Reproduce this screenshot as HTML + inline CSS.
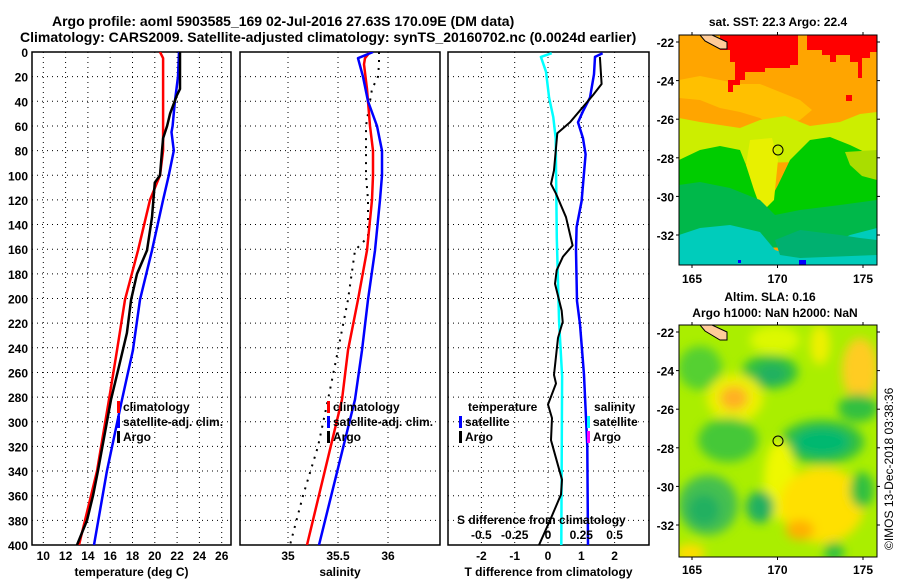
<!DOCTYPE html>
<html><head><meta charset="utf-8">
<style>
body{margin:0;background:#fff;}
svg{display:block;font-family:"Liberation Sans",sans-serif;font-weight:bold;}
</style></head>
<body>
<svg id="chart" width="900" height="580" viewBox="0 0 900 580" xmlns="http://www.w3.org/2000/svg">
<defs>
<clipPath id="cp1"><rect x="32" y="52" width="199" height="493"/></clipPath>
<clipPath id="cp2"><rect x="240" y="52" width="200" height="493"/></clipPath>
<clipPath id="cp3"><rect x="448" y="52" width="201" height="493"/></clipPath>
<clipPath id="cm1"><rect x="679" y="35" width="198" height="230"/></clipPath>
<clipPath id="cm2"><rect x="679" y="325" width="198" height="232"/></clipPath>
<filter id="blur" x="-20%" y="-20%" width="140%" height="140%"><feGaussianBlur stdDeviation="5"/></filter>
</defs>
<text x="52" y="26" font-size="14">Argo profile: aoml 5903585_169 02-Jul-2016 27.63S 170.09E (DM data)</text>
<text x="20" y="42" font-size="14">Climatology: CARS2009. Satellite-adjusted climatology: synTS_20160702.nc (0.0024d earlier)</text>
<g id="g1"></g>
<g id="g2"></g>
<g id="g3"></g>

<!-- SST map -->
<g>
<text x="778" y="26" font-size="12" text-anchor="middle">sat. SST: 22.3 Argo: 22.4</text>
<g clip-path="url(#cm1)">
<rect x="679" y="35" width="198" height="230" fill="#ffa500"/>
<polygon fill="#ffc000" points="679,80 700,76 720,80 740,84 760,84 780,92 800,100 812,110 800,120 785,125 770,125 760,118 740,112 720,108 700,100 679,98"/>
<polygon fill="#ff0000" points="720,35 798,35 798,65 790,65 790,68 765,68 765,72 745,72 745,80 740,80 740,85 733,85 733,92 728,92 728,80 735,80 735,62 730,62 730,50 720,50"/>
<polygon fill="#ff0000" points="807,35 877,35 877,52 870,52 870,58 862,58 862,78 858,78 858,62 850,62 850,55 836,55 836,62 830,62 830,55 822,55 822,50 807,50"/>
<polygon fill="#ff0000" points="725,141 732,141 732,146 725,146"/>
<polygon fill="#ff0000" points="846,95 852,95 852,101 846,101"/>
<polygon fill="#ccee00" points="679,118 700,122 720,125 740,128 760,120 785,116 810,126 840,122 860,114 877,112 877,160 679,165"/>
<polygon fill="#00cc00" points="679,160 700,150 720,146 740,150 750,175 760,190 770,200 778,185 790,160 810,140 830,137 850,145 877,158 877,215 679,215"/>
<polygon fill="#aadd00" points="845,152 877,150 877,180 862,176 850,165"/>
<polygon fill="#e8f000" points="750,140 772,138 778,160 774,200 762,212 754,190 746,165"/>
<polygon fill="#00b84a" points="679,185 700,182 730,188 760,200 775,215 800,210 840,205 877,200 877,245 679,250"/>
<polygon fill="#00ccbb" points="679,235 700,228 730,225 760,232 775,250 790,255 820,250 850,235 877,228 877,265 679,265"/>
<polygon fill="#00b070" points="775,240 800,230 840,235 860,238 877,240 877,255 800,258 780,255"/>
<rect x="799" y="260" width="7" height="5" fill="#0000ff"/>
<rect x="738" y="260" width="3" height="3" fill="#0000ff"/>
<polygon fill="#ffcc99" stroke="#000" stroke-width="1" points="700,35 712,35 727,42 727,49 720,49 705,41"/>
</g>
<circle cx="778" cy="150" r="5" fill="none" stroke="#000" stroke-width="1"/>
<rect x="679" y="35" width="198" height="230" fill="none" stroke="#000" stroke-width="1"/>
<g id="m1ticks"></g>
</g>

<!-- SLA map -->
<g>
<text x="770" y="301" font-size="12" text-anchor="middle">Altim. SLA: 0.16</text>
<text x="775" y="317" font-size="12" text-anchor="middle">Argo h1000: NaN h2000: NaN</text>
<g clip-path="url(#cm2)">
<rect x="679" y="325" width="198" height="232" fill="#aaee00"/>
<g filter="url(#blur)">
<ellipse cx="775" cy="340" rx="25" ry="14" fill="#ddf800"/>
<ellipse cx="700" cy="368" rx="22" ry="22" fill="#55d030"/>
<ellipse cx="770" cy="372" rx="28" ry="17" fill="#33c040"/>
<ellipse cx="772" cy="374" rx="15" ry="10" fill="#22b060"/>
<ellipse cx="735" cy="398" rx="28" ry="24" fill="#eef000"/>
<ellipse cx="734" cy="398" rx="14" ry="12" fill="#ffb020"/>
<ellipse cx="860" cy="370" rx="18" ry="32" fill="#ffcc22"/>
<ellipse cx="820" cy="345" rx="10" ry="20" fill="#eef000"/>
<ellipse cx="858" cy="408" rx="20" ry="14" fill="#33c040"/>
<ellipse cx="822" cy="442" rx="42" ry="22" fill="#33c040"/>
<ellipse cx="822" cy="442" rx="28" ry="14" fill="#00b870"/>
<ellipse cx="728" cy="440" rx="30" ry="22" fill="#44c838"/>
<ellipse cx="780" cy="480" rx="16" ry="40" fill="#eef800"/>
<ellipse cx="822" cy="505" rx="42" ry="38" fill="#ffe000"/>
<ellipse cx="800" cy="530" rx="14" ry="10" fill="#ffb000"/>
<ellipse cx="862" cy="490" rx="12" ry="18" fill="#33c040"/>
<ellipse cx="708" cy="505" rx="30" ry="30" fill="#44c050"/>
<ellipse cx="704" cy="510" rx="16" ry="16" fill="#22b060"/>
<ellipse cx="760" cy="507" rx="14" ry="16" fill="#22b060"/>
<ellipse cx="690" cy="553" rx="15" ry="9" fill="#ffdd00"/>
<ellipse cx="834" cy="552" rx="10" ry="10" fill="#33c040"/>
</g>
<polygon fill="#ffcc99" stroke="#000" stroke-width="1" points="700,325 712,325 727,332 727,340 720,340 705,331"/>
</g>
<circle cx="778" cy="441" r="5" fill="none" stroke="#000" stroke-width="1"/>
<rect x="679" y="325" width="198" height="232" fill="none" stroke="#000" stroke-width="1"/>
<g id="m2ticks"></g>
<text transform="translate(893,550) rotate(-90)" font-size="12" font-weight="normal">©IMOS 13-Dec-2018 03:38:36</text>
</g>
</svg>
<script>
// ---- data ----
const depthTicks = [0,20,40,60,80,100,120,140,160,180,200,220,240,260,280,300,320,340,360,380,400];
const tempTicks = [10,12,14,16,18,20,22,24,26];
const salTicks = [35,35.5,36];
const salTickLabels = ["35","35.5","36"];
const tdiffTicks = [-2,-1,0,1,2];
const sdiffTickLabels = ["-0.5","-0.25","0","0.25","0.5"];
const sdiffTicks = [-0.5,-0.25,0,0.25,0.5];

const climTDepth = [0,5,20,50,80,100,120,161,201,242,282,340,400];
const climT      = [20.47,20.74,20.74,20.74,20.74,20.47,19.57,18.49,17.33,16.61,15.89,14.82,13.2];
const satTDepth  = [0,20,40,60,65,80,100,120,161,201,242,282,340,400];
const satT       = [22.17,22.08,21.8,21.6,21.5,21.7,21.26,20.74,19.75,18.67,18.04,17.06,15.7,14.55];
const argoTDepth = [0,30,35,50,60,70,80,100,106,134,161,180,201,228,255,282,340,360,380,400];
const argoT      = [22.26,22.26,21.99,21.37,21.1,20.74,20.65,20.47,20.0,19.75,19.3,18.4,17.87,17.5,16.79,16.07,14.9,14.46,13.92,13.02];

const climSDepth = [0,5,10,30,60,80,100,120,161,201,242,282,400];
const climS      = [35.82,35.77,35.76,35.79,35.82,35.85,35.85,35.84,35.79,35.7,35.6,35.54,35.19];
const satSDepth  = [0,5,20,40,60,80,100,120,161,201,242,282,400];
const satS       = [35.85,35.7,35.75,35.8,35.89,35.94,35.94,35.92,35.87,35.8,35.74,35.67,35.31];
const argoSDepth = [0,10,20,30,60,100,120,150,161,201,242,282,320,360,400];
const argoS      = [35.91,35.91,35.9,35.84,35.78,35.78,35.8,35.8,35.67,35.6,35.5,35.4,35.3,35.15,35.02];

const satTdDepth = [1,4,18,37,48,57,70,83,121,142,161,202,221,262,320,400];
const satTd      = [1.64,1.41,1.38,1.26,1.05,0.9,1.05,1.13,1.01,0.86,0.84,0.87,0.96,1.08,1.18,1.2];
const argoTdDepth= [4,26,35,57,66,96,107,115,134,157,166,177,188,210,219,232,262,269,286,297,315,347,359,380,400];
const argoTd     = [1.56,1.61,1.35,0.66,0.28,0.18,0.09,0.24,0.54,0.74,0.45,0.26,0.21,0.41,0.44,0.3,0.18,0.24,0,0.12,0.09,0.42,0.39,0.06,-0.27];
const satSdDepth = [1,4,16,37,53,70,151,219,263,400];
const satSd      = [0.028,-0.053,-0.015,0.008,0.04,0.058,0.066,0.083,0.106,0.1];

const lonTicks = [165,170,175];
const latTicks = [-22,-24,-26,-28,-30,-32];

// ---- scales ----
const Y0=52, Y1=545;
const yD = d => Y0 + d*(Y1-Y0)/400;
const xT = t => 43.3 + (t-10)*11.15;
const xS = s => 288 + (s-35)*100;
const xTd = v => 548 + v*33.3;
const xSd = v => 548 + v*133.2;
const NS='http://www.w3.org/2000/svg';
function el(tag, attrs, parent, txt){
  const e=document.createElementNS(NS,tag);
  for(const k in attrs) e.setAttribute(k,attrs[k]);
  if(txt!==undefined) e.textContent=txt;
  parent.appendChild(e); return e;
}
function panel(g, x0, x1, xs, ticks, labels, title, showDepth){
  for(const d of depthTicks){
    const y=yD(d);
    el('line',{x1:x0,x2:x1,y1:y,y2:y,stroke:'#000','stroke-width':1,'stroke-dasharray':'1 4'},g);
    if(showDepth){
      const t=el('text',{x:28,y:y+5,'font-size':12,'text-anchor':'end'},g,String(d));
      
      
    }
  }
  ticks.forEach((v,i)=>{
    const x=xs(v);
    el('line',{x1:x,x2:x,y1:Y0,y2:Y1,stroke:'#000','stroke-width':1,'stroke-dasharray':'1 4'},g);
    const t=el('text',{x:x,y:560,'font-size':12,'text-anchor':'middle'},g,labels[i]);
    
    
  });
  el('rect',{x:x0,y:Y0,width:x1-x0,height:Y1-Y0,fill:'none',stroke:'#000','stroke-width':1.5},g);
  const t=el('text',{x:(x0+x1)/2,y:576,'font-size':12,'text-anchor':'middle'},g,title);
  
  
}
function line(g, depths, vals, xs, color, w, name, dash){
  const pts=depths.map((d,i)=>xs(vals[i]).toFixed(1)+','+yD(d).toFixed(1)).join(' ');
  const a={points:pts,fill:'none',stroke:color,'stroke-width':w,'stroke-linejoin':'round'};
  if(dash) a['stroke-dasharray']=dash;
  const p=el('polyline',a,g);
  
  
}
function legend(g,x,y,items){
  items.forEach((it,i)=>{
    const yy=y+i*15;
    el('rect',{x:x,y:yy-10,width:3,height:12,fill:it[1]},g);
    const t=el('text',{x:x+6,y:yy,'font-size':12},g,it[0]);
    
    
  });
}
const g1=document.getElementById('g1'), g2=document.getElementById('g2'), g3=document.getElementById('g3');
panel(g1,32,231,xT,tempTicks,tempTicks.map(String),'temperature (deg C)',true);
const c1=el('g',{'clip-path':'url(#cp1)'},g1);
line(c1,climTDepth,climT,xT,'#ff0000',2.5,'climatology-temperature-line');
line(c1,satTDepth,satT,xT,'#0000ff',2.5,'satellite-temperature-line');
line(c1,argoTDepth,argoT,xT,'#000',2.5,'argo-temperature-line');
legend(g1,117,411,[['climatology','#ff0000'],['satellite-adj. clim.','#0000ff'],['Argo','#000']]);

panel(g2,240,440,xS,salTicks,salTickLabels,'salinity',false);
const c2=el('g',{'clip-path':'url(#cp2)'},g2);
line(c2,argoSDepth,argoS,xS,'#000',2,'argo-salinity-line','2 6');
line(c2,climSDepth,climS,xS,'#ff0000',2.5,'climatology-salinity-line');
line(c2,satSDepth,satS,xS,'#0000ff',2.5,'satellite-salinity-line');
legend(g2,327,411,[['climatology','#ff0000'],['satellite-adj. clim.','#0000ff'],['Argo','#000']]);

panel(g3,448,649,xTd,tdiffTicks,tdiffTicks.map(String),'T difference from climatology',false);
const c3=el('g',{'clip-path':'url(#cp3)'},g3);
line(c3,satSdDepth,satSd,xSd,'#00ffff',2.5,'salinity-diff-satellite-line');
line(c3,satTdDepth,satTd,xTd,'#0000ff',2.5,'temperature-diff-satellite-line');
line(c3,argoTdDepth,argoTd,xTd,'#000',2,'temperature-diff-argo-line');
const th=el('text',{x:468,y:411,'font-size':12},g3,'temperature');


const sh=el('text',{x:594,y:411,'font-size':12},g3,'salinity');


legend(g3,459,426,[['satellite','#0000ff'],['Argo','#000']]);
legend(g3,587,426,[['satellite','#00ffff'],['Argo','#ff00ff']]);
const sd=el('text',{x:457,y:524,'font-size':12},g3,'S difference from climatology');


sdiffTicks.forEach((v,i)=>{
  const t=el('text',{x:xSd(v),y:539,'font-size':12,'text-anchor':'middle'},g3,sdiffTickLabels[i]);
  
  
});

// map ticks
function mapTicks(gid, top, bottom, latY, labelY){
  const g=document.getElementById(gid);
  lonTicks.forEach(l=>{
    const x=692+(l-165)*17.1;
    el('line',{x1:x,x2:x,y1:top-3,y2:top,stroke:'#000'},g);
    el('line',{x1:x,x2:x,y1:bottom,y2:bottom+3,stroke:'#000'},g);
    const t=el('text',{x:x,y:labelY,'font-size':12,'text-anchor':'middle'},g,String(l));
    
    
  });
  latTicks.forEach(l=>{
    const y=latY(l);
    el('line',{x1:676,x2:679,y1:y,y2:y,stroke:'#000'},g);
    el('line',{x1:877,x2:880,y1:y,y2:y,stroke:'#000'},g);
    const t=el('text',{x:674,y:y+5,'font-size':12,'text-anchor':'end'},g,String(l));
    
    
  });
}
mapTicks('m1ticks',35,265,l=>42+(-22-l)*19.3,283);
mapTicks('m2ticks',325,557,l=>332+(-22-l)*19.3,574);
</script>
</body></html>
